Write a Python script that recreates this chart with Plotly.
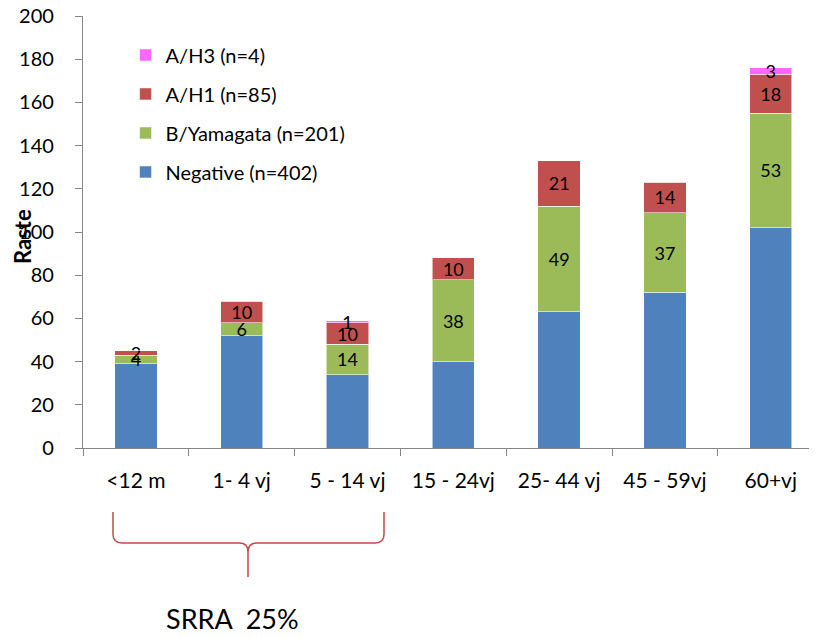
import plotly.graph_objects as go

categories = ["<12 m", "1- 4 vj", "5 - 14 vj", "15 - 24vj", "25- 44 vj", "45 - 59vj", "60+vj"]
negative = [39, 52, 34, 40, 63, 72, 102]
b_yamagata = [4, 6, 14, 38, 49, 37, 53]
a_h1 = [2, 10, 10, 10, 21, 14, 18]
a_h3 = [0, 0, 1, 0, 0, 0, 3]

y_ticks = list(range(0, 201, 20))

FONT = "Lato"

def labels(vals):
    return [str(v) if v else "" for v in vals]

series = [
    ("Negative (n=402)", negative, "#4F81BD", False, 4),
    ("B/Yamagata (n=201)", b_yamagata, "#9BBB59", True, 3),
    ("A/H1 (n=85)", a_h1, "#C0504D", True, 2),
    ("A/H3 (n=4)", a_h3, "#FF66FF", True, 1),
]

fig = go.Figure()
for name, vals, color, show_text, rank in series:
    fig.add_trace(go.Bar(
        x=categories, y=vals, name=name,
        marker=dict(color=color, line=dict(color="rgba(255,255,255,0.55)", width=1)),
        width=0.4,
        text=labels(vals) if show_text else None,
        textposition="inside" if show_text else "none",
        insidetextanchor="middle",
        textangle=0,
        constraintext="none",
        textfont=dict(family=FONT, size=18, color="black"),
        legendgroup=name, legendrank=rank,
        hoverinfo="skip",
    ))

fig.update_layout(
    width=809, height=629,
    barmode="stack", bargap=0.6,
    plot_bgcolor="white", paper_bgcolor="white",
    margin=dict(l=75, r=0, t=8, b=189),
    font=dict(family=FONT, size=20, color="black"),
    uniformtext=dict(mode="show", minsize=18),
    showlegend=True,
    legend=dict(
        x=0.058, y=0.955, xanchor="left", yanchor="top",
        traceorder="grouped", tracegroupgap=10,
        font=dict(family=FONT, size=20, color="black"),
        bgcolor="rgba(0,0,0,0)",
    ),
    xaxis=dict(
        range=[-0.5, 6.437], showline=True, linecolor="#868686", linewidth=1.3,
        ticks="outside", tickson="boundaries", ticklen=7, tickcolor="#868686",
        tickfont=dict(family=FONT, size=21, color="black"),
        ticklabelstandoff=14, showgrid=False, fixedrange=True, automargin=False,
        ticklabeloverflow="allow",
    ),
    yaxis=dict(
        range=[0, 200], tickvals=y_ticks, showline=True, linecolor="#868686", linewidth=1.3,
        ticks="outside", ticklen=7, tickcolor="#868686",
        tickfont=dict(family=FONT, size=20, color="black"),
        ticklabelstandoff=17, showgrid=False, zeroline=False, fixedrange=True,
        automargin=False, ticklabeloverflow="allow",
    ),
)

# Y-axis title (overlapping tick labels as in the reference)
fig.add_annotation(
    text="<b>Raste</b>", xref="paper", yref="paper",
    x=(22 - 83) / 734, y=(448 - 236) / 432, textangle=-90,
    showarrow=False, font=dict(family=FONT, size=22, color="black"),
    xanchor="center", yanchor="middle",
)

# Curly bracket below first three categories
def px(xp):
    return (xp - 83) / 734

def py(yp):
    return (448 - yp) / 432

x0, xm, x1 = px(113), px(248), px(384)
yt, ym, yb = py(512), py(543), py(577)
r = 0.012
ry = 0.02
path = (
    f"M {x0},{yt} L {x0},{ym + ry} Q {x0},{ym} {x0 + r},{ym} "
    f"L {xm - r},{ym} Q {xm},{ym} {xm},{ym - ry} L {xm},{yb} "
    f"M {xm},{ym - ry} Q {xm},{ym} {xm + r},{ym} "
    f"L {x1 - r},{ym} Q {x1},{ym} {x1},{ym + ry} L {x1},{yt}"
)
fig.add_shape(type="path", path=path, xref="paper", yref="paper",
              line=dict(color="#BE4B48", width=1.5))

fig.add_annotation(
    text="SRRA  25%", xref="paper", yref="paper",
    x=px(232), y=py(618), showarrow=False,
    font=dict(family=FONT, size=27, color="black"),
    xanchor="center", yanchor="middle",
)

fig.write_html("out.html")
